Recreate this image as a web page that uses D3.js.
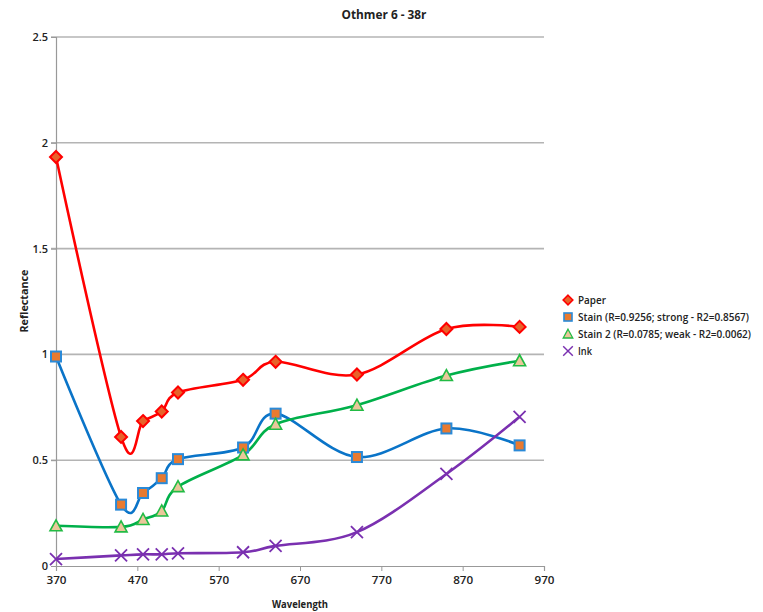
<!DOCTYPE html>
<html><head><meta charset="utf-8">
<script src="https://cdn.jsdelivr.net/npm/d3@7"></script>
<style>
body{margin:0;background:#fff;}
text{font-family:"Open Sans","DejaVu Sans",sans-serif;}
</style></head>
<body><svg id="c" width="763" height="612"></svg>
<script>
const wavelengths = [370, 450, 477, 500, 520, 600, 640, 740, 850, 940];
const paper  = [1.933, 0.61, 0.685, 0.73, 0.82, 0.88, 0.965, 0.905, 1.12, 1.13];
const stain  = [0.99, 0.29, 0.345, 0.415, 0.505, 0.56, 0.72, 0.515, 0.65, 0.57];
const stain2 = [0.19, 0.185, 0.22, 0.26, 0.375, 0.525, 0.67, 0.76, 0.9, 0.97];
const ink    = [0.033, 0.05, 0.055, 0.055, 0.06, 0.065, 0.095, 0.16, 0.435, 0.705];
const seriesNames = ["Paper", "Stain (R=0.9256; strong - R2=0.8567)", "Stain 2 (R=0.0785; weak - R2=0.0062)", "Ink"];
const xTicks = [370, 470, 570, 670, 770, 870, 970];
const yTicks = [0, 0.5, 1, 1.5, 2, 2.5];
const yTickLabels = ["0", "0.5", "1", "1.5", "2", "2.5"];

const styles = [
  {line:"#ff0000", fill:"#e8622a", stroke:"#ff0000", shape:"diamond"},
  {line:"#0a74c8", fill:"#e87a30", stroke:"#2a8ad8", shape:"square"},
  {line:"#00b04a", fill:"#eac79a", stroke:"#22bb44", shape:"triangle"},
  {line:"#7a30b0", fill:"none", stroke:"#7a30b0", shape:"x"}
];
const legendWidths = [28, 171, 173, 14];
const data = [paper, stain, stain2, ink];

const svg = d3.select("#c");
const x = d3.scaleLinear().domain([370, 970]).range([56, 544]);
const y = d3.scaleLinear().domain([0, 2.5]).range([566, 37]);

// gridlines
svg.append("g").selectAll("line").data(yTicks.slice(1)).join("line")
  .attr("x1", 51).attr("x2", 544)
  .attr("y1", d => y(d)).attr("y2", d => y(d))
  .attr("stroke", "#b4b4b4").attr("stroke-width", 1.6);

// y axis
const yAxis = d3.axisLeft(y).tickValues(yTicks).tickFormat((d,i) => yTickLabels[i]).tickSize(5).tickPadding(3);
const gy = svg.append("g").attr("transform", "translate(56,0)").call(yAxis);
gy.select(".domain").attr("stroke", "#999").attr("stroke-width", 1.2);
gy.selectAll(".tick line").attr("stroke", "#999");
gy.selectAll("text").attr("font-size", 11).attr("font-weight", 600).attr("fill", "#222");

// x axis
const xAxis = d3.axisBottom(x).tickValues(xTicks).tickSize(5).tickPadding(5).tickFormat(d3.format("d"));
const gx = svg.append("g").attr("transform", "translate(0,566)").call(xAxis);
gx.select(".domain").attr("stroke", "#999").attr("stroke-width", 1.2);
gx.selectAll(".tick line").attr("stroke", "#999");
gx.selectAll("text").attr("font-size", 11).attr("font-weight", 600).attr("fill", "#222")
  .attr("textLength", 20).attr("lengthAdjust", "spacingAndGlyphs");

// lines
const line = d3.line().x(d => x(d[0])).y(d => y(d[1])).curve(d3.curveCatmullRom.alpha(0));
data.forEach((vals, i) => {
  const pts = wavelengths.map((w, j) => [w, vals[j]]);
  svg.append("path").attr("d", line(pts)).attr("fill", "none")
    .attr("stroke", styles[i].line).attr("stroke-width", 2.6);
});

function marker(g, shape, k, fill, stroke) {
  const m = g.append("g").attr("transform", `scale(${k})`);
  if (shape === "diamond") {
    m.append("path").attr("d", "M0,-6L6,0L0,6L-6,0Z").attr("fill", fill).attr("stroke", stroke).attr("stroke-width", 2);
  } else if (shape === "square") {
    m.append("rect").attr("x", -5).attr("y", -5).attr("width", 10).attr("height", 10).attr("fill", fill).attr("stroke", stroke).attr("stroke-width", 2);
  } else if (shape === "triangle") {
    m.append("path").attr("d", "M0,-6L6,5L-6,5Z").attr("fill", fill).attr("stroke", stroke).attr("stroke-width", 1.6);
  } else {
    m.append("path").attr("d", "M-6,-6L6,6M-6,6L6,-6").attr("stroke", stroke).attr("stroke-width", 1.8).attr("fill", "none");
  }
}

data.forEach((vals, i) => {
  wavelengths.forEach((w, j) => {
    const g = svg.append("g").attr("transform", `translate(${x(w)},${y(vals[j])})`);
    marker(g, styles[i].shape, 1, styles[i].fill, styles[i].stroke);
  });
});

// title
svg.append("text").attr("x", 384).attr("y", 19).attr("text-anchor", "middle")
  .attr("font-size", 12.5).attr("font-weight", "bold").attr("fill", "#222")
  .attr("textLength", 85).attr("lengthAdjust", "spacingAndGlyphs").text("Othmer 6 - 38r");
// axis titles
svg.append("text").attr("x", 300).attr("y", 608).attr("text-anchor", "middle")
  .attr("font-size", 11).attr("font-weight", "bold").attr("fill", "#222")
  .attr("textLength", 56).attr("lengthAdjust", "spacingAndGlyphs").text("Wavelength");
svg.append("text").attr("transform", "translate(28,301) rotate(-90)").attr("text-anchor", "middle")
  .attr("font-size", 11).attr("font-weight", "bold").attr("fill", "#222")
  .attr("textLength", 63).attr("lengthAdjust", "spacingAndGlyphs").text("Reflectance");

// legend
const lg = svg.append("g");
seriesNames.forEach((n, i) => {
  const yy = 300 + i * 17;
  const g = lg.append("g").attr("transform", `translate(568,${yy})`);
  marker(g, styles[i].shape, 0.8, styles[i].fill, styles[i].stroke);
  lg.append("text").attr("x", 578).attr("y", yy + 4).attr("font-size", 10.5).attr("font-weight", 600)
    .attr("fill", "#222").attr("textLength", legendWidths[i]).attr("lengthAdjust", "spacingAndGlyphs").text(n);
});
</script></body></html>
